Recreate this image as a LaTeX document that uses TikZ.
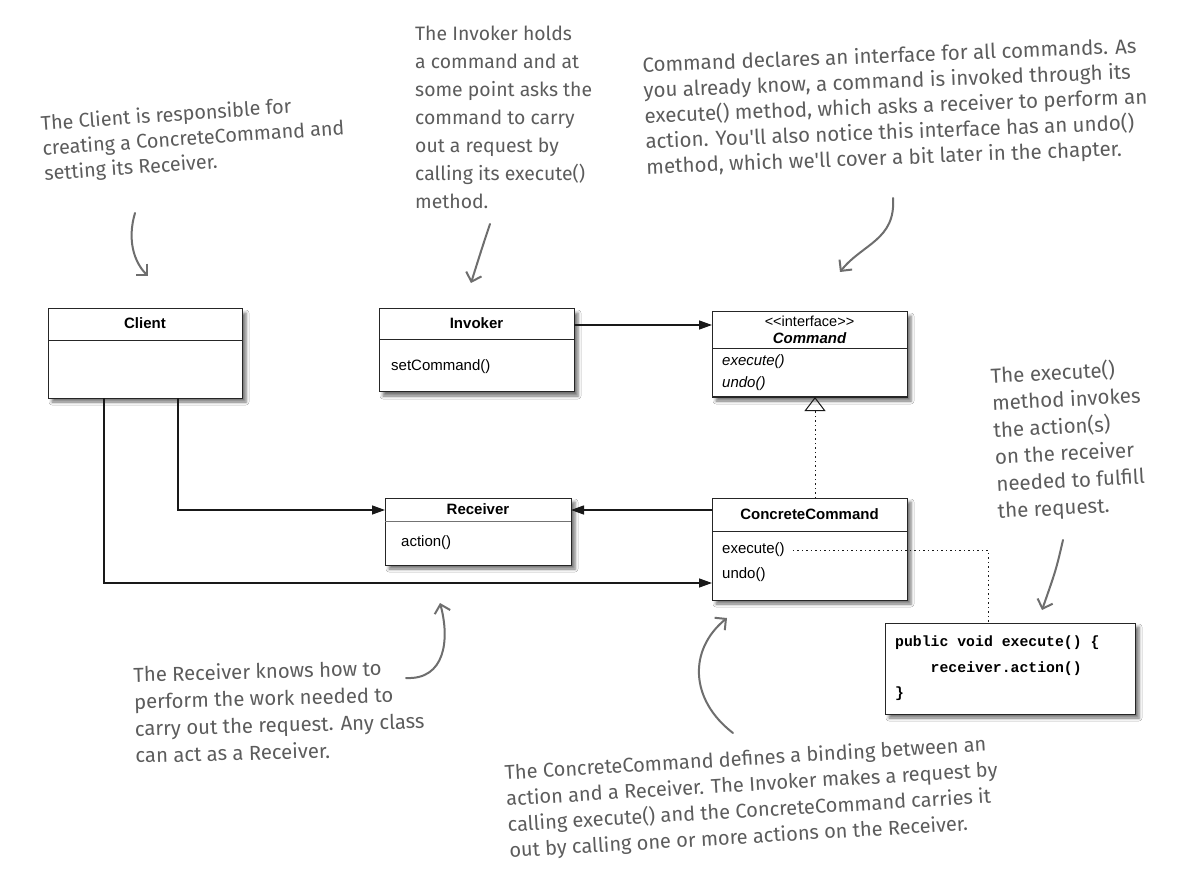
\documentclass[tikz,border=0pt]{standalone}
\usepackage{fontspec}
\setmainfont{Liberation Sans}
\newfontfamily\hand{Fira Sans}
\newfontfamily\codefont{Liberation Mono}
\usetikzlibrary{arrows.meta,shadows.blur,calc}
\definecolor{notegray}{RGB}{92,92,92}
\definecolor{arrgray}{RGB}{110,110,110}
\tikzset{
  cls/.style={draw=black!85, line width=1pt, fill=white, inner sep=0pt, outer sep=0pt, anchor=north west,
    blur shadow={shadow xshift=4pt, shadow yshift=-4pt, shadow blur radius=3pt, shadow opacity=55}},
  divider/.style={draw=black!85, line width=1pt},
  title/.style={font=\bfseries\fontsize{15}{17}\selectfont, inner sep=0pt},
  member/.style={font=\fontsize{15}{17}\selectfont, inner sep=0pt, anchor=west},
  imember/.style={font=\itshape\fontsize{15}{17}\selectfont, inner sep=0pt, anchor=west},
  assoc/.style={draw=black!90, line width=1.3pt, -{Triangle[length=13pt,width=9pt]}},
  realize/.style={draw=black!90, line width=1pt, dash pattern=on 1.2pt off 3.3pt, -{Triangle[open,length=14pt,width=21pt,line width=1pt]}},
  dotlink/.style={draw=black!90, line width=1pt, dash pattern=on 1.2pt off 3.3pt},
  note/.style={text=notegray, align=left, inner sep=0pt, anchor=north west},
  pointer/.style={draw=arrgray, line width=2pt, line cap=round, -{Straight Barb[length=8pt,width=16pt,line width=2pt]}},
}
\begin{document}
\begin{tikzpicture}[x=1pt,y=-1pt]
\fill[white] (0,0) rectangle (1192,885);
\useasboundingbox (0,0) rectangle (1192,885);

% ---- class boxes ----
\node[cls, minimum width=194pt, minimum height=89pt] (client) at (48,309) {};
\draw[divider] ($(client.north west)+(0,32)$) -- ($(client.north east)+(0,32)$);
\node[title] (clientT) at ($(client.north)+(0,14)$) {Client};

\node[cls, minimum width=195pt, minimum height=83pt] (invoker) at (379,309) {};
\draw[divider] ($(invoker.north west)+(0,31)$) -- ($(invoker.north east)+(0,31)$);
\node[title] (invokerT) at ($(invoker.north)+(0,14)$) {Invoker};
\node[member] (invokerM) at ($(invoker.north west)+(12,58)$) {setCommand()};

\node[cls, minimum width=195pt, minimum height=85pt] (cmd) at (712,312) {};
\draw[divider] ($(cmd.north west)+(0,37)$) -- ($(cmd.north east)+(0,37)$);
\node[inner sep=0pt, font=\fontsize{14.5}{16}\selectfont] (cmdS) at ($(cmd.north)+(0,9)$) {<{}<interface>{}>};
\node[title, font=\bfseries\itshape\fontsize{15}{17}\selectfont] (cmdT) at ($(cmd.north)+(0,26)$) {Command};
\node[imember] (cmdE) at ($(cmd.north west)+(10,50)$) {execute()};
\node[imember] (cmdU) at ($(cmd.north west)+(10,72)$) {undo()};

\node[cls, minimum width=186pt, minimum height=67pt] (recv) at (385,498) {};
\draw[divider, draw=black!55] ($(recv.north west)+(0,23)$) -- ($(recv.north east)+(0,23)$);
\node[title] (recvT) at ($(recv.north)+(0,11)$) {Receiver};
\node[member] (recvM) at ($(recv.north west)+(16,45)$) {action()};

\node[cls, minimum width=195pt, minimum height=102pt] (cc) at (712,498) {};
\draw[divider] ($(cc.north west)+(0,33)$) -- ($(cc.north east)+(0,33)$);
\node[title] (ccT) at ($(cc.north)+(0,16)$) {ConcreteCommand};
\node[member] (ccE) at ($(cc.north west)+(10,52)$) {execute()};
\node[member] (ccU) at ($(cc.north west)+(10,77)$) {undo()};

\node[cls, minimum width=250pt, minimum height=91pt] (code) at (885,623) {};
\node[font=\codefont\bfseries\fontsize{14.8}{25.5}\selectfont, align=left, inner sep=0pt, anchor=north west] (codeT)
  at ($(code.north west)+(10,13)$) {public void execute() \{\\~~~~receiver.action()\\\}};

% ---- connectors ----
\draw[assoc] ([yshift=25.5pt]invoker.east) -- ([yshift=29.5pt]cmd.west);
\draw[assoc] ([xshift=-41pt]client.south) |- ([yshift=-34pt]cc.west);
\draw[assoc] ([xshift=33pt]client.south) |- ([yshift=21.5pt]recv.west);
\draw[assoc] ([yshift=39pt]cc.west) -- ([yshift=21.5pt]recv.east);
\draw[realize] ([xshift=5.5pt]cc.north) -- ([xshift=5.5pt]cmd.south);
\coordinate (dotstart) at ($(ccE.east)+(8,0)$);
\draw[dotlink] (dotstart) -| ([xshift=-22pt]code.north);

% ---- notes ----
\node[note, rotate=4, font=\hand\fontsize{19.8}{25}\selectfont] (n1) at (40,115) {The Client is responsible for\\creating a ConcreteCommand and\\setting its Receiver.};
\node[note, font=\hand\fontsize{19.4}{28}\selectfont] (n2) at (415,26) {The Invoker holds\\a command and at\\some point asks the\\command to carry\\out a request by\\calling its execute()\\method.};
\node[note, rotate=2.2, font=\hand\fontsize{20.5}{25.5}\selectfont] (n3) at (642,56) {Command declares an interface for all commands. As\\you already know, a command is invoked through its\\execute() method, which asks a receiver to perform an\\action. You'll also notice this interface has an undo()\\method, which we'll cover a bit later in the chapter.};
\node[note, rotate=3, font=\hand\fontsize{20.5}{27}\selectfont] (n4) at (990,366) {The execute()\\method invokes\\the action(s)\\on the receiver\\needed to fulfill\\the request.};
\node[note, rotate=1.5, font=\hand\fontsize{20.3}{27}\selectfont] (n5) at (133,666) {The Receiver knows how to\\perform the work needed to\\carry out the request. Any class\\can act as a Receiver.};
\node[note, rotate=3.4, font=\hand\fontsize{20}{26}\selectfont] (n6) at (504,764) {The ConcreteCommand defines a binding between an\\action and a Receiver. The Invoker makes a request by\\calling execute() and the ConcreteCommand carries it\\out by calling one or more actions on the Receiver.};

% ---- pointer arrows ----
\coordinate (p1s) at (135,213); \coordinate (p1e) at (148,276);
\draw[pointer] (p1s) .. controls (127,240) and (134,262) .. (p1e);
\coordinate (p2s) at (490,224); \coordinate (p2e) at (471,283);
\draw[pointer] (p2s) .. controls (482,248) .. (p2e);
\coordinate (p3s) at (893,198); \coordinate (p3e) at (840,272);
\draw[pointer] (p3s) .. controls (896,240) and (862,244) .. (p3e);
\coordinate (p4s) at (1063,540); \coordinate (p4e) at (1042,610);
\draw[pointer] (p4s) .. controls (1056,570) .. (p4e);
\coordinate (p5s) at (406,678); \coordinate (p5e) at (440,603);
\draw[pointer] (p5s) .. controls (445,680) and (450,640) .. (p5e);
\coordinate (p6s) at (733,733); \coordinate (p6e) at (727,618);
\draw[pointer] (p6s) .. controls (690,700) and (688,650) .. (p6e);
\end{tikzpicture}
\end{document}
